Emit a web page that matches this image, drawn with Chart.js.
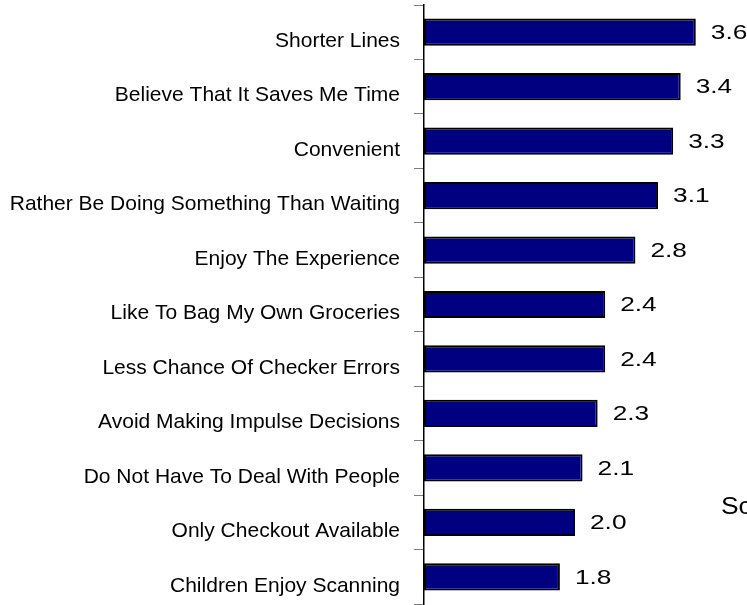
<!DOCTYPE html>
<html><head><meta charset="utf-8">
<script src="https://cdn.jsdelivr.net/npm/chart.js@4/dist/chart.umd.min.js"></script>
<style>html,body{margin:0;padding:0;background:#fff;overflow:hidden}#wrap{width:747px;height:605px;position:relative}</style>
</head><body><div id="wrap"><canvas id="c" width="747" height="605"></canvas></div>
<script>
const categories = ["Shorter Lines","Believe That It Saves Me Time","Convenient","Rather Be Doing Something Than Waiting","Enjoy The Experience","Like To Bag My Own Groceries","Less Chance Of Checker Errors","Avoid Making Impulse Decisions","Do Not Have To Deal With People","Only Checkout Available","Children Enjoy Scanning"];
const scores = [3.6,3.4,3.3,3.1,2.8,2.4,2.4,2.3,2.1,2.0,1.8];
const axisTitle = "Score";

const valueLabels = {
  id:'valueLabels',
  afterDatasetsDraw(chart){
    const ctx=chart.ctx; const meta=chart.getDatasetMeta(0);
    ctx.save(); ctx.fillStyle='#000';
    ctx.textBaseline='middle'; ctx.textAlign='left';
    ctx.font='21px "Liberation Sans", Arial, sans-serif';
    meta.data.forEach((bar,i)=>{
      ctx.save(); ctx.translate(bar.x+15, bar.y+1); ctx.scale(1.25,1);
      ctx.fillText(scores[i].toFixed(1), 0, 0); ctx.restore();
    });
    ctx.font='24px "Liberation Sans", Arial, sans-serif';
    ctx.save(); ctx.translate(721, 507); ctx.scale(1.1,1); ctx.fillText(axisTitle, 0, 0); ctx.restore();
    ctx.restore();
  }
};

new Chart(document.getElementById('c'),{
  type:'bar',
  data:{labels:categories,datasets:[{data:scores,backgroundColor:'#000080',borderColor:'#000000',borderWidth:2,borderSkipped:false,categoryPercentage:0.5,barPercentage:1}]},
  options:{
    indexAxis:'y',responsive:false,animation:false,
    layout:{padding:{top:5,bottom:1,left:0,right:21}},
    plugins:{legend:{display:false},tooltip:{enabled:false}},
    scales:{
      x:{display:false,min:0,max:4},
      y:{
        afterFit(s){s.width=424; s.paddingTop=0; s.paddingBottom=0;},
        border:{display:true,color:'#000',width:1.5},
        grid:{drawOnChartArea:false,drawTicks:true,tickLength:10,color:'#808080'},
        ticks:{color:'#000',padding:14,labelOffset:9,font:{family:'"Liberation Sans", Arial, sans-serif',size:21}}
      }
    }
  },
  plugins:[valueLabels]
});
</script></body></html>
